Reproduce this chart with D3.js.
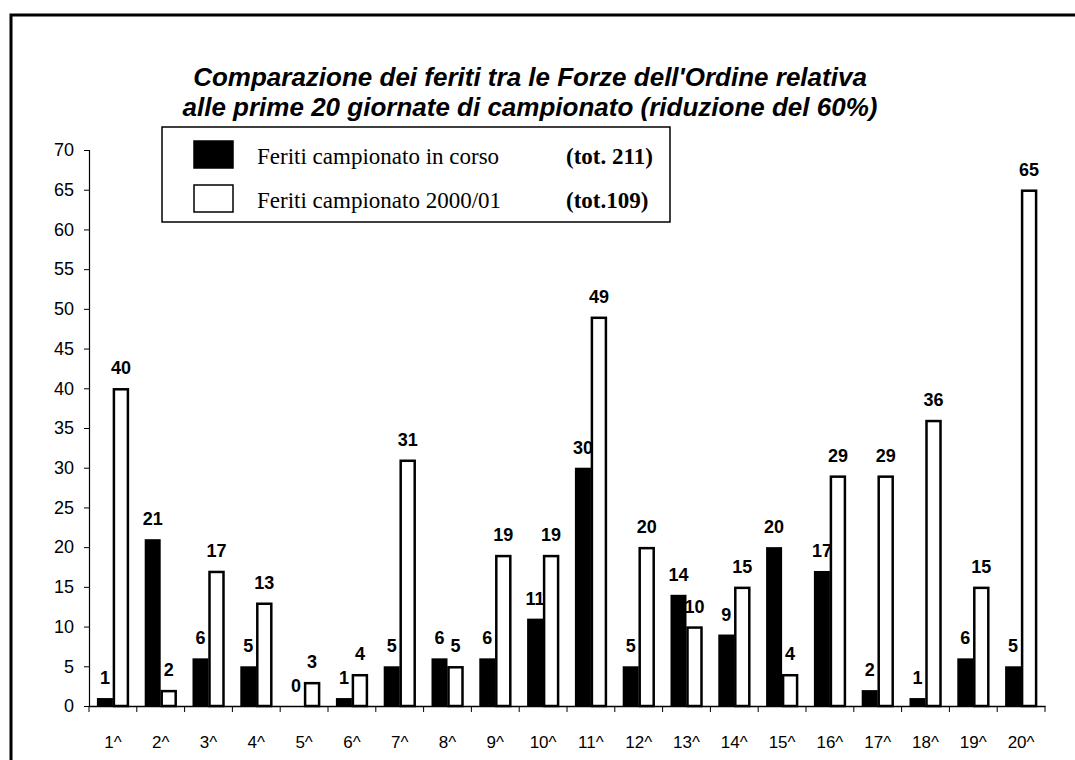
<!DOCTYPE html>
<html>
<head>
<meta charset="utf-8">
<script src="https://cdn.jsdelivr.net/npm/d3@7"></script>
<style>
  body { margin: 0; background: #fff; }
</style>
</head>
<body>
<div id="chart"></div>
<script>
// Data
//-----------
var giornate = ["1^","2^","3^","4^","5^","6^","7^","8^","9^","10^","11^","12^","13^","14^","15^","16^","17^","18^","19^","20^"];
var feritiInCorso = [1, 21, 6, 5, 0, 1, 5, 6, 6, 11, 30, 5, 14, 9, 20, 17, 2, 1, 6, 5];
var feriti0001 = [40, 2, 17, 13, 3, 4, 31, 5, 19, 19, 49, 20, 10, 15, 4, 29, 29, 36, 15, 65];
var yTicks = d3.range(0, 71, 5);
var titleLines = ["Comparazione dei feriti tra le Forze dell'Ordine relativa",
                  "alle prime 20 giornate di campionato (riduzione del 60%)"];
var legendItems = [
	{label: "Feriti campionato in corso", tot: "(tot. 211)", fill: "#000"},
	{label: "Feriti campionato 2000/01", tot: "(tot.109)", fill: "#fff"}
];

var w = 1075, h = 760;
var mLeft = 89, mRight = 1045, mTop = 150, mBottom = 706;
var font = "Liberation Sans, Arial, sans-serif";
var serif = "Liberation Serif, Times New Roman, serif";

var svg = d3.select("#chart").append("svg")
	.attr("width", w)
	.attr("height", h);

// Frame
svg.append("path")
	.attr("d", "M11,760 L11,15 L1075,15")
	.attr("fill", "none")
	.attr("stroke", "#000")
	.attr("stroke-width", 3);

// Title
svg.selectAll(".title")
	.data(titleLines)
	.enter()
	.append("text")
	.attr("class", "title")
	.text(function(d) { return d; })
	.attr("x", 530)
	.attr("y", function(d, i) { return 86 + i * 30; })
	.attr("text-anchor", "middle")
	.attr("font-family", font)
	.attr("font-weight", "bold")
	.attr("font-style", "italic")
	.attr("font-size", "26px");

// Scales
//-----------
var xScale = d3.scaleBand(giornate, [mLeft, mRight]);
var yScale = d3.scaleLinear([0, 70], [mBottom, mTop]);
var barW = 16;

// Axes
//-----------
var yAxis = svg.append("g")
	.attr("transform", "translate(" + mLeft + ",0)")
	.call(d3.axisLeft(yScale).tickValues(yTicks).tickSize(5).tickPadding(10));
yAxis.select(".domain").attr("stroke-width", 1.2);
yAxis.selectAll("text")
	.attr("font-family", font)
	.attr("font-size", "18px")
	.attr("fill", "#000");

var xAxis = svg.append("g")
	.attr("transform", "translate(0," + mBottom + ")")
	.call(d3.axisBottom(xScale).tickSize(0).tickPadding(30));
xAxis.select(".domain").attr("stroke-width", 1.5);
xAxis.selectAll("text")
	.attr("font-family", font)
	.attr("font-size", "17px")
	.attr("fill", "#000");
// tick marks at category boundaries
svg.selectAll(".xtick")
	.data(d3.range(giornate.length + 1))
	.enter()
	.append("line")
	.attr("x1", function(i) { return mLeft + i * xScale.bandwidth(); })
	.attr("x2", function(i) { return mLeft + i * xScale.bandwidth(); })
	.attr("y1", mBottom)
	.attr("y2", mBottom + 6)
	.attr("stroke", "#000");

// Bars
//-----------
function cx(i) { return xScale(giornate[i]) + xScale.bandwidth() / 2; }

svg.selectAll(".barA")
	.data(feritiInCorso)
	.enter()
	.append("rect")
	.attr("x", function(d, i) { return cx(i) - barW; })
	.attr("y", function(d) { return yScale(d); })
	.attr("width", barW)
	.attr("height", function(d) { return mBottom - yScale(d); })
	.attr("fill", "#000");

svg.selectAll(".barB")
	.data(feriti0001)
	.enter()
	.append("rect")
	.attr("x", function(d, i) { return cx(i) + 1; })
	.attr("y", function(d) { return yScale(d) + 1; })
	.attr("width", barW - 2)
	.attr("height", function(d) { return mBottom - yScale(d) - 1; })
	.attr("fill", "#fff")
	.attr("stroke", "#000")
	.attr("stroke-width", 2.5);

// Labels
//-----------
svg.selectAll(".labA")
	.data(feritiInCorso)
	.enter()
	.append("text")
	.text(function(d) { return d; })
	.attr("x", function(d, i) { return cx(i) - barW / 2; })
	.attr("y", function(d) { return yScale(d) - 14; })
	.attr("text-anchor", "middle")
	.attr("font-family", font)
	.attr("font-weight", "bold")
	.attr("font-size", "18px");

svg.selectAll(".labB")
	.data(feriti0001)
	.enter()
	.append("text")
	.text(function(d) { return d; })
	.attr("x", function(d, i) { return cx(i) + barW / 2; })
	.attr("y", function(d) { return yScale(d) - 14; })
	.attr("text-anchor", "middle")
	.attr("font-family", font)
	.attr("font-weight", "bold")
	.attr("font-size", "18px");

// Legend
//-----------
svg.append("rect")
	.attr("x", 162).attr("y", 127)
	.attr("width", 508).attr("height", 95)
	.attr("fill", "#fff")
	.attr("stroke", "#000")
	.attr("stroke-width", 1.5);

var leg = svg.selectAll(".leg")
	.data(legendItems)
	.enter()
	.append("g")
	.attr("transform", function(d, i) { return "translate(0," + (i * 44) + ")"; });

leg.append("rect")
	.attr("x", 194).attr("y", 141)
	.attr("width", 39).attr("height", 27)
	.attr("fill", function(d) { return d.fill; })
	.attr("stroke", "#000")
	.attr("stroke-width", 1.5);

leg.append("text")
	.text(function(d) { return d.label; })
	.attr("x", 257).attr("y", 164)
	.attr("font-family", serif)
	.attr("font-size", "23px");

leg.append("text")
	.text(function(d) { return d.tot; })
	.attr("x", 566)
	.attr("y", 164)
	.attr("font-family", serif)
	.attr("font-weight", "bold")
	.attr("font-size", "23px");
</script>
</body>
</html>
